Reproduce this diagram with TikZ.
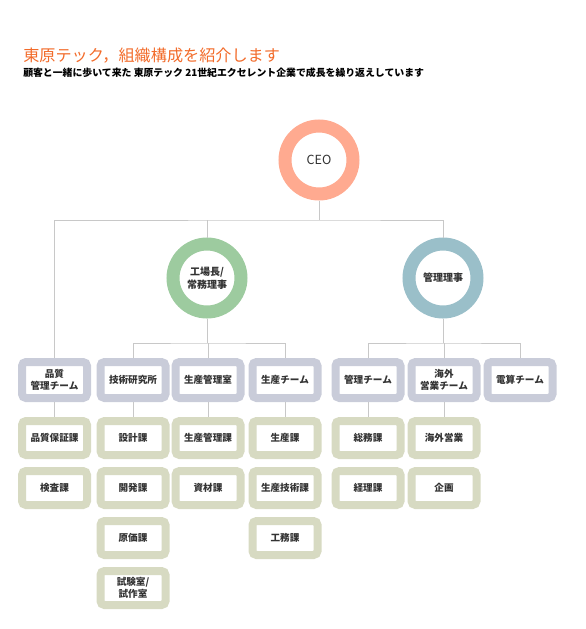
\documentclass[tikz,border=0pt]{standalone}
\usepackage{fontspec}
\setmainfont{Noto Sans CJK JP}
\usepackage{tikz}
\usetikzlibrary{positioning, calc}

\definecolor{ceoRing}{HTML}{FFAA90}
\definecolor{facRing}{HTML}{9DCB9F}
\definecolor{admRing}{HTML}{9ABFC9}
\definecolor{teamBox}{HTML}{C9CCD9}
\definecolor{secBox}{HTML}{D7DAC2}
\definecolor{connGray}{HTML}{C8C8C8}
\definecolor{titleOrange}{HTML}{F26B2A}
\definecolor{txtGray}{HTML}{333333}

\tikzset{
  ring/.style={circle,draw=#1,line width=9.75pt,minimum size=51pt,inner sep=0pt,
    outer sep=4.875pt,fill=white,text=txtGray,align=center,
    font=\fontsize{7.5}{10}\selectfont\bfseries},
  teambox/.style={rectangle,draw=teamBox,line width=6pt,rounded corners=3pt,
    minimum width=48.75pt,minimum height=27pt,inner sep=0pt,outer sep=3pt,
    fill=white,text=txtGray,align=center,font=\fontsize{7.2}{9.5}\selectfont\bfseries},
  secbox/.style={teambox,draw=secBox,minimum height=25.5pt},
  conn/.style={draw=connGray,line width=0.75pt}
}

\begin{document}
\begin{tikzpicture}[x=0.75pt,y=-0.75pt]
\useasboundingbox (0,0) rectangle (586,629);

% --- Titolo
\node[anchor=west,inner sep=0pt,text=titleOrange,font=\fontsize{12.1}{14}\selectfont] (title) at (23,56) {東原テック，組織構成を紹介します};
\node[anchor=west,inner sep=0pt,text=black,font=\fontsize{7.4}{9}\selectfont\bfseries] (subtitle) at (23,73) {顧客と一緒に歩いて来た 東原テック 21世紀エクセレント企業で成長を繰り返えしています};

% --- Cerchi
\node[ring=ceoRing,font=\fontsize{9.4}{11}\selectfont] (ceo) at (319,160) {CEO};
\node[ring=facRing] (fac) at (207,278) {工場長/\\常務理事};
\node[ring=admRing] (adm) at (443,278) {管理理事};

% --- Squadre
\node[teambox] (qa)   at (54.5,380) {品質\\管理チーム};
\node[teambox] (rnd)  at (133,380)  {技術研究所};
\node[teambox] (pm)   at (208,380)  {生産管理室};
\node[teambox] (prod) at (285,380)  {生産チーム};
\node[teambox] (mgt)  at (368,380)  {管理チーム};
\node[teambox] (ovs)  at (444,380)  {海外\\営業チーム};
\node[teambox] (ict)  at (520,380)  {電算チーム};

% --- Linee principali
\coordinate (bus1) at (319,220);
\draw[conn] (ceo.south) -- (bus1);
\draw[conn] (qa.north) |- (bus1) -| (adm.north);
\draw[conn] (fac.north) -- (fac.north |- bus1);

\coordinate (bus2) at (207,343);
\draw[conn] (fac.south) -- (bus2);
\draw[conn] (rnd.north) |- (bus2) -| (prod.north);
\draw[conn] (pm.north) -- (pm.north |- bus2);

\coordinate (bus3) at (443,343);
\draw[conn] (adm.south) -- (bus3);
\draw[conn] (mgt.north) |- (bus3) -| (ict.north);
\draw[conn] (ovs.north) -- (ovs.north |- bus3);

% --- Sezioni (colonne)
\foreach \col/\x/\list in {qa/54.5/{品質保証課,検査課},
    rnd/133/{設計課,開発課,原価課,{試験室/\\試作室}},
    pm/208/{生産管理課,資材課},
    prod/285/{生産課,生産技術課,工務課},
    mgt/368/{総務課,経理課},
    ovs/444/{海外営業,企画}}{
  \foreach \lbl [count=\i] in \list{
    \node[secbox] (\col\i) at (\x,{388+50*\i}) {\lbl};
  }
  \draw[conn] (\col.south) -- (\col1.north);
}

\end{tikzpicture}
\end{document}
